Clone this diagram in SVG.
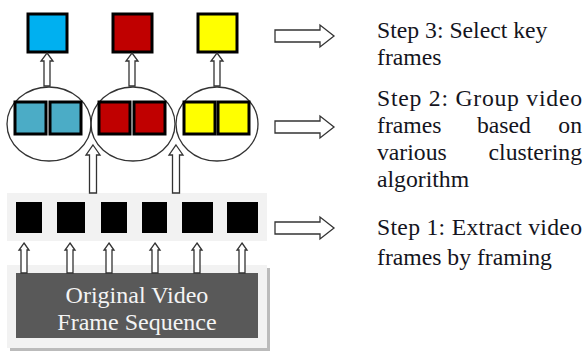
<svg xmlns="http://www.w3.org/2000/svg" width="585" height="352" viewBox="0 0 585 352">
<style>
.arr{fill:#fff;stroke:#333;stroke-width:1.3;stroke-linejoin:miter}
.sq{stroke:#000;stroke-width:3}
.circ{fill:none;stroke:#333;stroke-width:1.3}
.t{font-family:"Liberation Serif","Times New Roman",serif;font-size:23.7px;fill:#141420}
.bt{font-family:"Liberation Serif","Times New Roman",serif;font-size:24px;fill:#f4f4f4;text-anchor:middle}
</style>
<rect width="585" height="352" fill="#fff"/>
<g id="source">
<rect x="10" y="268" width="260" height="83" fill="#bbb"/>
<rect x="7" y="265" width="260" height="83" fill="#f2f2f2"/>
<rect x="16" y="273" width="242" height="65" fill="#595959"/>
<text class="bt" x="137" y="303">Original Video</text>
<text class="bt" x="137" y="330">Frame Sequence</text>
</g>
<g id="frames">
<rect x="7" y="193" width="260" height="48" fill="#f2f2f2"/>
<rect x="16" y="202" width="26" height="31" fill="#000"/>
<rect x="57" y="202" width="28" height="31" fill="#000"/>
<rect x="101" y="202" width="26" height="31" fill="#000"/>
<rect x="142" y="202" width="25" height="31" fill="#000"/>
<rect x="182" y="202" width="31" height="31" fill="#000"/>
<rect x="227" y="202" width="31" height="31" fill="#000"/>
</g>
<g id="cluster1">
<ellipse class="circ" cx="49" cy="124" rx="42" ry="37"/>
<rect class="sq" x="15" y="102" width="31" height="32" fill="#4bacc6"/>
<rect class="sq" x="50" y="102" width="31" height="32" fill="#4bacc6"/>
</g>
<g id="cluster2">
<ellipse class="circ" cx="133" cy="124" rx="42" ry="37"/>
<rect class="sq" x="99" y="102" width="31" height="32" fill="#c00000"/>
<rect class="sq" x="134" y="102" width="31" height="32" fill="#c00000"/>
</g>
<g id="cluster3">
<ellipse class="circ" cx="217" cy="124" rx="41" ry="37"/>
<rect class="sq" x="184" y="102" width="31" height="32" fill="#ffff00"/>
<rect class="sq" x="218" y="102" width="31" height="32" fill="#ffff00"/>
</g>
<g id="key1"><rect class="sq" x="28" y="14" width="39" height="38" fill="#00b0f0"/></g>
<g id="key2"><rect class="sq" x="113" y="14" width="39" height="38" fill="#c00000"/></g>
<g id="key3"><rect class="sq" x="198" y="14" width="39" height="38" fill="#ffff00"/></g>
<g id="connectors">
<polygon class="arr" points="47,53 53,61 50,61 50,86 44,86 44,61 41,61"/>
<polygon class="arr" points="132,53 138,61 135,61 135,86 129,86 129,61 126,61"/>
<polygon class="arr" points="217,53 223,61 220,61 220,86 214,86 214,61 211,61"/>
<polygon class="arr" points="93,145 100,155 96.5,155 96.5,193 89.5,193 89.5,155 86,155"/>
<polygon class="arr" points="176,145 183,155 179.5,155 179.5,193 172.5,193 172.5,155 169,155"/>
<polygon class="arr" points="24,243 29,250 27,250 27,273 21,273 21,250 19,250"/>
<polygon class="arr" points="70,243 75,250 73,250 73,273 67,273 67,250 65,250"/>
<polygon class="arr" points="109,243 114,250 112,250 112,273 106,273 106,250 104,250"/>
<polygon class="arr" points="155,243 160,250 158,250 158,273 152,273 152,250 150,250"/>
<polygon class="arr" points="197,243 202,250 200,250 200,273 194,273 194,250 192,250"/>
<polygon class="arr" points="242,243 247,250 245,250 245,273 239,273 239,250 237,250"/>
<polygon class="arr" points="275,30 320,30 320,25 334,36 320,47 320,42 275,42"/>
<polygon class="arr" points="275,121 320,121 320,116 334,127 320,138 320,133 275,133"/>
<polygon class="arr" points="275,222 320,222 320,217 334,228 320,239 320,234 275,234"/>
</g>
<g id="step3">
<text class="t" x="377" y="38">Step 3: Select key</text>
<text class="t" x="377" y="65">frames</text>
</g>
<g id="step2">
<text class="t" x="377" y="106" textLength="205" lengthAdjust="spacing">Step 2: Group video</text>
<text class="t" x="377" y="133">frames</text>
<text class="t" x="477" y="133">based</text>
<text class="t" x="582" y="133" text-anchor="end">on</text>
<text class="t" x="377" y="160">various</text>
<text class="t" x="582" y="160" text-anchor="end">clustering</text>
<text class="t" x="377" y="187">algorithm</text>
</g>
<g id="step1">
<text class="t" x="377" y="235" textLength="205" lengthAdjust="spacing">Step 1: Extract video</text>
<text class="t" x="377" y="265">frames by framing</text>
</g>
</svg>
